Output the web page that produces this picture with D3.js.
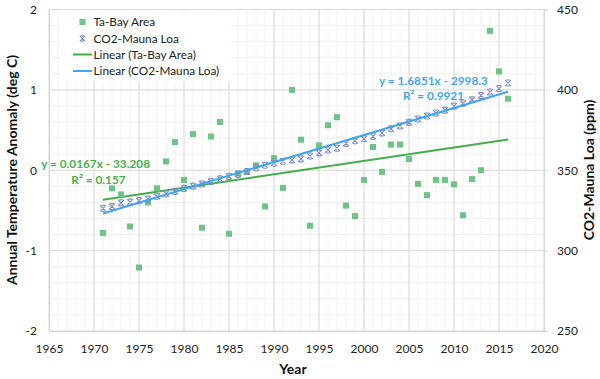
<!DOCTYPE html>
<html><head><meta charset="utf-8">
<script src="https://cdn.jsdelivr.net/npm/d3@7"></script>
<style>body{margin:0;background:#fff;} svg{display:block;font-family:Lato,"Open Sans",sans-serif;}</style>
</head><body><svg id="c" width="600" height="379"></svg>
<script>
const years = [1971,1972,1973,1974,1975,1976,1977,1978,1979,1980,1981,1982,1983,1984,1985,1986,1987,1988,1989,1990,1991,1992,1993,1994,1995,1996,1997,1998,1999,2000,2001,2002,2003,2004,2005,2006,2007,2008,2009,2010,2011,2012,2013,2014,2015,2016];
const taBay = [-0.78,-0.225,-0.30,-0.70,-1.21,-0.40,-0.225,0.11,0.35,-0.12,0.45,-0.715,0.42,0.60,-0.79,-0.04,-0.02,0.06,-0.45,0.15,-0.22,1.00,0.38,-0.69,0.31,0.56,0.66,-0.44,-0.57,-0.12,0.29,-0.02,0.32,0.32,0.14,-0.17,-0.31,-0.12,-0.12,-0.175,-0.56,-0.11,0.00,1.735,1.23,0.89];
const co2 = [326.32,327.45,329.68,330.18,331.11,332.04,333.83,335.40,336.84,338.75,340.11,341.45,343.05,344.65,346.12,347.42,349.19,351.57,353.12,354.39,355.61,356.45,357.10,358.83,360.82,362.61,363.73,366.70,368.38,369.55,371.14,373.28,375.80,377.52,379.80,381.90,383.79,385.60,387.43,389.90,391.65,393.85,396.52,398.65,400.83,404.24];
const xTicks = [1965,1970,1975,1980,1985,1990,1995,2000,2005,2010,2015,2020];
const yLeftTicks = [-2,-1,0,1,2];
const yRightTicks = [250,300,350,400,450];
const legendLabels = ["Ta-Bay Area","CO2-Mauna Loa","Linear (Ta-Bay Area)","Linear (CO2-Mauna Loa)"];
const eqTa = ["y = 0.0167x - 33.208","R² = 0.157"];
const eqCo2 = ["y = 1.6851x - 2998.3","R² = 0.9921"];

const GREEN_PT="#6cc486", GREEN_LN="#45ad4e", BLUE_LN="#42a5ec", BLUE_PT="#7f8cc9", BLUE_TX="#45a8ea", GREEN_TX="#4caf50";
const FS = 11.8;

const svg = d3.select("#c");
const x = d3.scaleLinear().domain([1965,2020]).range([49,544]);
const yL = d3.scaleLinear().domain([-2,2]).range([331,9.5]);
const yR = d3.scaleLinear().domain([250,450]).range([331,9.5]);

// gridlines
const g = svg.append("g");
const minorX = d3.range(1965,2021,1), minorY = d3.range(-2,2.001,0.2);
g.selectAll(".mx").data(minorX).join("line").attr("x1",d=>x(d)).attr("x2",d=>x(d)).attr("y1",yL(-2)).attr("y2",yL(2)).attr("stroke","#f0f0f0").attr("stroke-width",1);
g.selectAll(".my").data(minorY).join("line").attr("x1",x(1965)).attr("x2",x(2020)).attr("y1",d=>yL(d)).attr("y2",d=>yL(d)).attr("stroke","#f0f0f0").attr("stroke-width",1);
g.selectAll(".Mx").data(xTicks).join("line").attr("x1",d=>x(d)).attr("x2",d=>x(d)).attr("y1",yL(-2)).attr("y2",yL(2)).attr("stroke","#dcdcdc").attr("stroke-width",1);
g.selectAll(".My").data(yLeftTicks).join("line").attr("x1",x(1965)).attr("x2",x(2020)).attr("y1",d=>yL(d)).attr("y2",d=>yL(d)).attr("stroke","#dcdcdc").attr("stroke-width",1);

// axes
const axB = svg.append("g").attr("transform",`translate(0,${yL(-2)})`).call(d3.axisBottom(x).tickValues(xTicks).tickFormat(d3.format("d")).tickSize(0).tickPadding(13));
const axL = svg.append("g").attr("transform",`translate(${x(1965)},0)`).call(d3.axisLeft(yL).tickValues(yLeftTicks).tickFormat(d=>d).tickSize(0).tickPadding(12));
const axR = svg.append("g").attr("transform",`translate(${x(2020)},0)`).call(d3.axisRight(yR).tickValues(yRightTicks).tickSize(4).tickPadding(9));
[axB,axL,axR].forEach(a=>{a.select(".domain").attr("stroke","#d6d6d6");a.selectAll(".tick line").attr("stroke","#d6d6d6");a.selectAll("text").attr("font-size",12).attr("fill","#222").attr("font-family","Lato");});

// legend background
const lg = svg.append("g");
lg.append("rect").attr("x",61).attr("y",11).attr("width",170).attr("height",70).attr("fill","#fff");

// trend lines (least squares, as the spreadsheet does)
function fit(xs,ys){const n=xs.length,mx=d3.mean(xs),my=d3.mean(ys);let sxy=0,sxx=0;for(let i=0;i<n;i++){sxy+=(xs[i]-mx)*(ys[i]-my);sxx+=(xs[i]-mx)**2;}const b=sxy/sxx;return {b,a:my-b*mx};}
const fT = fit(years,taBay), fC = fit(years,co2);
const xe=[years[0],years[years.length-1]];
svg.append("line").attr("x1",x(xe[0])).attr("x2",x(xe[1])).attr("y1",yL(fT.a+fT.b*xe[0])).attr("y2",yL(fT.a+fT.b*xe[1])).attr("stroke",GREEN_LN).attr("stroke-width",2);

// points
svg.append("g").selectAll("rect").data(years).join("rect").attr("x",(d,i)=>x(d)-3).attr("y",(d,i)=>yL(taBay[i])-3).attr("width",6).attr("height",6).attr("fill",GREEN_PT);

function star(sel,cx,cy,s){return sel.append("path").attr("d",`M${cx-s},${cy-s}L${cx+s},${cy+s}M${cx-s},${cy+s}L${cx+s},${cy-s}M${cx-s*0.6},${cy-s}L${cx+s*0.6},${cy-s}M${cx-s*0.6},${cy+s}L${cx+s*0.6},${cy+s}`).attr("stroke",BLUE_PT).attr("stroke-width",1.1).attr("fill","none");}
const sg = svg.append("g");
years.forEach((d,i)=>star(sg,x(d),yR(co2[i]),3));

svg.append("line").attr("x1",x(xe[0])).attr("x2",x(xe[1])).attr("y1",yR(fC.a+fC.b*xe[0])).attr("y2",yR(fC.a+fC.b*xe[1])).attr("stroke",BLUE_LN).attr("stroke-width",2);

// legend
const ly=[22,38.5,54.5,71];
lg.append("rect").attr("x",79.5).attr("y",ly[0]-3).attr("width",6).attr("height",6).attr("fill",GREEN_PT);
star(lg,82.5,ly[1],2.6);
lg.append("line").attr("x1",73).attr("x2",92).attr("y1",ly[2]).attr("y2",ly[2]).attr("stroke",GREEN_LN).attr("stroke-width",2);
lg.append("line").attr("x1",73).attr("x2",92).attr("y1",ly[3]).attr("y2",ly[3]).attr("stroke",BLUE_LN).attr("stroke-width",2);
lg.selectAll("text").data(legendLabels).join("text").attr("x",93.5).attr("y",(d,i)=>ly[i]).attr("dy","0.35em").attr("font-size",FS).attr("fill","#222").text(d=>d);

// equations
function eq(xp,yp,anchor,color,txt){svg.append("text").attr("x",xp).attr("y",yp).attr("dy","0.35em").attr("text-anchor",anchor).attr("font-weight","bold").attr("font-size",FS).attr("fill",color).text(txt);}
eq(150,164,"end",GREEN_TX,eqTa[0]);
eq(98.5,179.5,"middle",GREEN_TX,eqTa[1]);
eq(433.5,80.5,"middle",BLUE_TX,eqCo2[0]);
eq(433.5,95.5,"middle",BLUE_TX,eqCo2[1]);

// axis titles
svg.append("text").attr("transform","translate(12,170) rotate(-90)").attr("dy","0.35em").attr("text-anchor","middle").attr("font-weight","bold").attr("font-size",14).attr("fill","#111").text("Annual Temperature Anomaly (deg C)");
svg.append("text").attr("transform","translate(589,170) rotate(-90)").attr("dy","0.35em").attr("text-anchor","middle").attr("font-weight","bold").attr("font-size",14).attr("fill","#111").text("CO2-Mauna Loa (ppm)");
svg.append("text").attr("x",293).attr("y",369).attr("dy","0.35em").attr("text-anchor","middle").attr("font-weight","bold").attr("font-size",14).attr("fill","#111").text("Year");
</script></body></html>
